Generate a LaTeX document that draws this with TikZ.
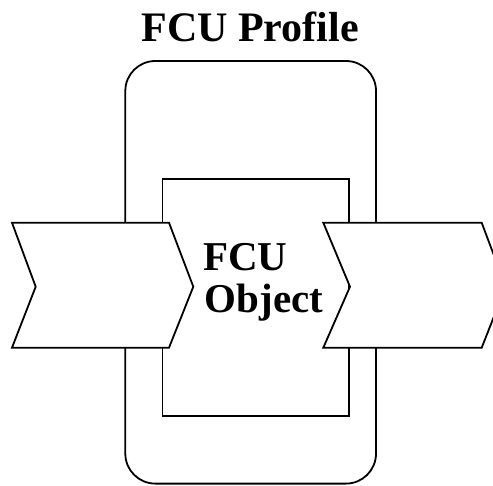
\documentclass[tikz,border=0pt]{standalone}
\usepackage{fontspec}
\setmainfont{Liberation Serif}
\begin{document}
\begin{tikzpicture}[x=1pt,y=-1pt,
  shape line/.style={draw=black,line width=1.8pt,line join=miter},
  chevron/.style={shape line,fill=white},
  label text/.style={font=\bfseries\fontsize{41}{42}\selectfont,inner sep=0pt}]
\useasboundingbox (0,0) rectangle (493,485);
\clip (0,0) rectangle (493,485);
% outer profile
\draw[shape line,rounded corners=30pt] (125.3,61) rectangle (376,483.6);
% inner object
\draw[shape line] (162.5,179.3) rectangle (349.3,415.7);
% chevrons
\draw[chevron] (12,222.7) -- (169,222.7) -- (193.3,286.7) -- (169,347.7) -- (12,347.7) -- (35.7,286.7) -- cycle;
\draw[chevron] (323.3,222.7) -- (481.7,222.7) -- (505.7,286.7) -- (481.7,347.7) -- (323.3,347.7) -- (350,286.7) -- cycle;
% texts
\node[label text,anchor=base,font=\bfseries\fontsize{42}{44}\selectfont] (title) at (250,41.7) {FCU Profile};
\node[label text,anchor=base west] (fcu) at (203,270) {FCU};
\node[label text,anchor=base west] (obj) at (204.5,312.3) {Object};
\end{tikzpicture}
\end{document}
